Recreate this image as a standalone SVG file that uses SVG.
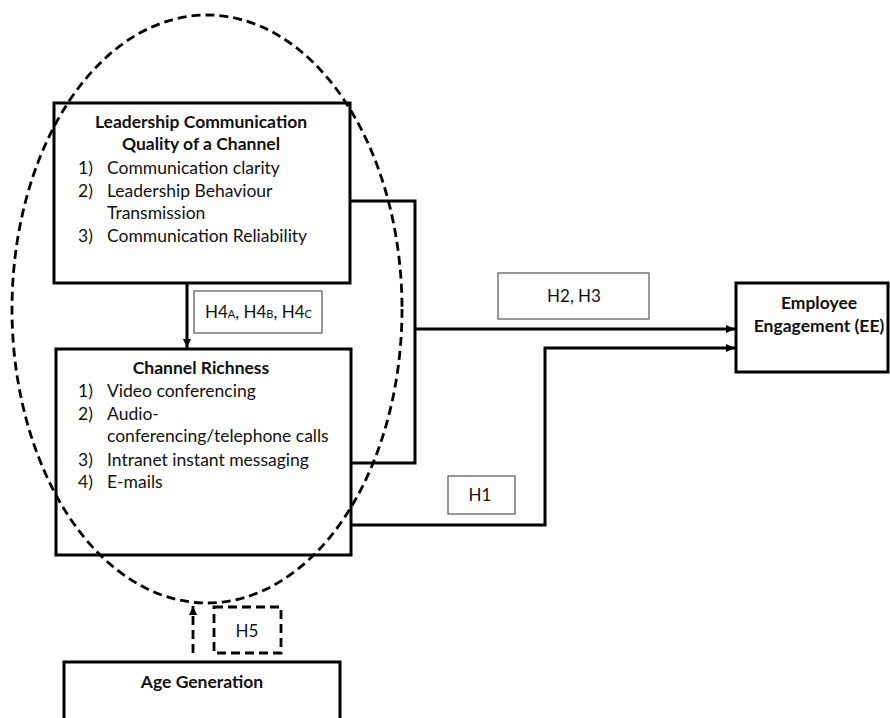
<svg xmlns="http://www.w3.org/2000/svg" width="890" height="718" viewBox="0 0 890 718">
<defs>
<marker id="ah" markerWidth="11" markerHeight="11" refX="10" refY="5.5" orient="auto" markerUnits="userSpaceOnUse">
<path d="M1,1.5 L10,5.5 L1,9.5 Z" fill="#000"/>
</marker>
<style>
.box{fill:#fff;stroke:#000;stroke-width:3}
.lbl{fill:#fff;stroke:#555;stroke-width:1.2}
.t{font-family:Lato,"Liberation Sans",sans-serif;font-size:17.5px;fill:#111}
.b{font-weight:bold;text-anchor:middle}
.c{text-anchor:middle}
.ln{fill:none;stroke:#000;stroke-width:3}
.dash{fill:none;stroke:#000;stroke-width:2.8;stroke-dasharray:9 5}
</style>
</defs>
<rect width="890" height="718" fill="#fff"/>

<g id="lcq">
<rect class="box" x="54" y="103" width="296" height="180"/>
<text class="t b" x="201" y="128">Leadership Communication</text>
<text class="t b" x="201" y="150">Quality of a Channel</text>
<text class="t" x="78" y="174">1)</text><text class="t" x="107" y="174">Communication clarity</text>
<text class="t" x="78" y="197">2)</text><text class="t" x="107" y="197">Leadership Behaviour</text>
<text class="t" x="107" y="219">Transmission</text>
<text class="t" x="78" y="242">3)</text><text class="t" x="107" y="242">Communication Reliability</text>
</g>

<g id="cr">
<rect class="box" x="56" y="349" width="295" height="206"/>
<text class="t b" x="201" y="374">Channel Richness</text>
<text class="t" x="78" y="397">1)</text><text class="t" x="107" y="397">Video conferencing</text>
<text class="t" x="78" y="420">2)</text><text class="t" x="107" y="420">Audio-</text>
<text class="t" x="107" y="442">conferencing/telephone calls</text>
<text class="t" x="78" y="466">3)</text><text class="t" x="107" y="466">Intranet instant messaging</text>
<text class="t" x="78" y="488">4)</text><text class="t" x="107" y="488">E-mails</text>
</g>

<g id="ee">
<rect class="box" x="736" y="283" width="152" height="89"/>
<text class="t b" x="819" y="309">Employee</text>
<text class="t b" x="819" y="332">Engagement (EE)</text>
</g>

<g id="age">
<rect class="box" x="64" y="662" width="276" height="70"/>
<text class="t b" x="202" y="688">Age Generation</text>
</g>

<g id="group">
<ellipse class="dash" cx="207" cy="309" rx="195" ry="294"/>
</g>

<g id="connectors">
<path class="ln" d="M187,283 V348" marker-end="url(#ah)"/>
<path class="ln" d="M350,201 H415 V463 H351"/>
<path class="ln" d="M415,329 H735" marker-end="url(#ah)"/>
<path class="ln" d="M351,525 H545 V348 H735" marker-end="url(#ah)"/>
<path class="dash" d="M193,653 V606" marker-end="url(#ah)"/>
</g>

<g id="label-h4">
<rect class="lbl" x="194" y="291" width="128" height="42"/>
<text class="t" x="205" y="318" style="font-size:17px">H4<tspan font-size="11">A</tspan>, H4<tspan font-size="11">B</tspan>, H4<tspan font-size="11">C</tspan></text>
</g>
<g id="label-h23">
<rect class="lbl" x="498" y="273" width="151" height="46"/>
<text class="t c" x="574" y="302" style="font-size:17px">H2, H3</text>
</g>
<g id="label-h1">
<rect class="lbl" x="448" y="476" width="67" height="38"/>
<text class="t c" x="480" y="501" style="font-size:17px">H1</text>
</g>
<g id="label-h5">
<rect class="dash" x="214" y="607" width="67" height="46"/>
<text class="t c" x="247" y="637" style="font-size:17px">H5</text>
</g>
</svg>
